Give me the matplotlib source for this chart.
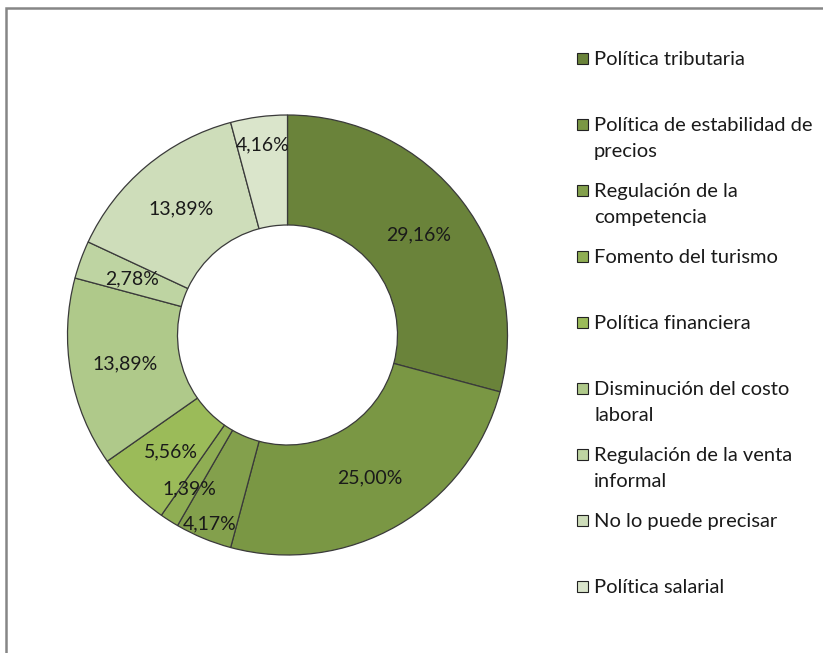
import numpy as np
import matplotlib.pyplot as plt
from matplotlib.patches import Rectangle

plt.rcParams['font.family'] = ['Lato', 'DejaVu Sans']

categorias = ["Política tributaria",
              "Política de estabilidad de\nprecios",
              "Regulación de la\ncompetencia",
              "Fomento del turismo",
              "Política financiera",
              "Disminución del costo\nlaboral",
              "Regulación de la venta\ninformal",
              "No lo puede precisar",
              "Política salarial"]
valores = [29.16, 25.00, 4.17, 1.39, 5.56, 13.89, 2.78, 13.89, 4.16]
etiquetas = ["29,16%", "25,00%", "4,17%", "1,39%", "5,56%",
             "13,89%", "2,78%", "13,89%", "4,16%"]
colores = ["#6A833A", "#7A9744", "#83A04C", "#8FAE53", "#9BBB59",
           "#AFC98A", "#BED4A2", "#CEDDBA", "#DAE5CB"]
# radial position of each percentage label (fraction of outer radius)
radio_etq = [0.75, 0.75, 0.93, 0.83, 0.75, 0.75, 0.75, 0.75, 0.87]

W, H = 823, 653
fig = plt.figure(figsize=(W/100, H/100), dpi=100)

# outer frame of the chart area
fig.add_artist(Rectangle((6/W, -0.2), 1.2, 1.2 - 8/H, transform=fig.transFigure,
                         fill=False, edgecolor="#868686", linewidth=1.8))

cx, cy, R = 287.5, 335, 220
ax = fig.add_axes([(cx-R)/W, (H-cy-R)/H, 2*R/W, 2*R/H])
wedges, _ = ax.pie(valores, colors=colores, startangle=90, counterclock=False,
                   radius=1, wedgeprops=dict(width=0.5, edgecolor="#3a3a3a", linewidth=0.9))
for w in wedges:
    w.set_clip_on(False)
ax.set_xlim(-1, 1)
ax.set_ylim(-1, 1)
ax.set_aspect('equal')
ax.axis('off')

for w, t, r in zip(wedges, etiquetas, radio_etq):
    ang = np.deg2rad((w.theta1 + w.theta2) / 2)
    ax.text(r*np.cos(ang), r*np.sin(ang), t, ha='center', va='center',
            fontsize=14, color="#1a1a1a")

# legend
y0 = 58
paso = 66
interlinea = 26
for i, (c, lab) in enumerate(zip(colores, categorias)):
    y = y0 + i*paso
    fig.add_artist(Rectangle((577/W, 1 - (y+5.5)/H), 11/W, 11/H,
                             transform=fig.transFigure, facecolor=c,
                             edgecolor="#222222", linewidth=0.8))
    for j, linea in enumerate(lab.split("\n")):
        fig.text(594/W, 1 - (y + 7 + j*interlinea)/H, linea, ha='left',
                 va='baseline', fontsize=14.5, color="#1a1a1a")

fig.savefig("out.png", dpi=100)
